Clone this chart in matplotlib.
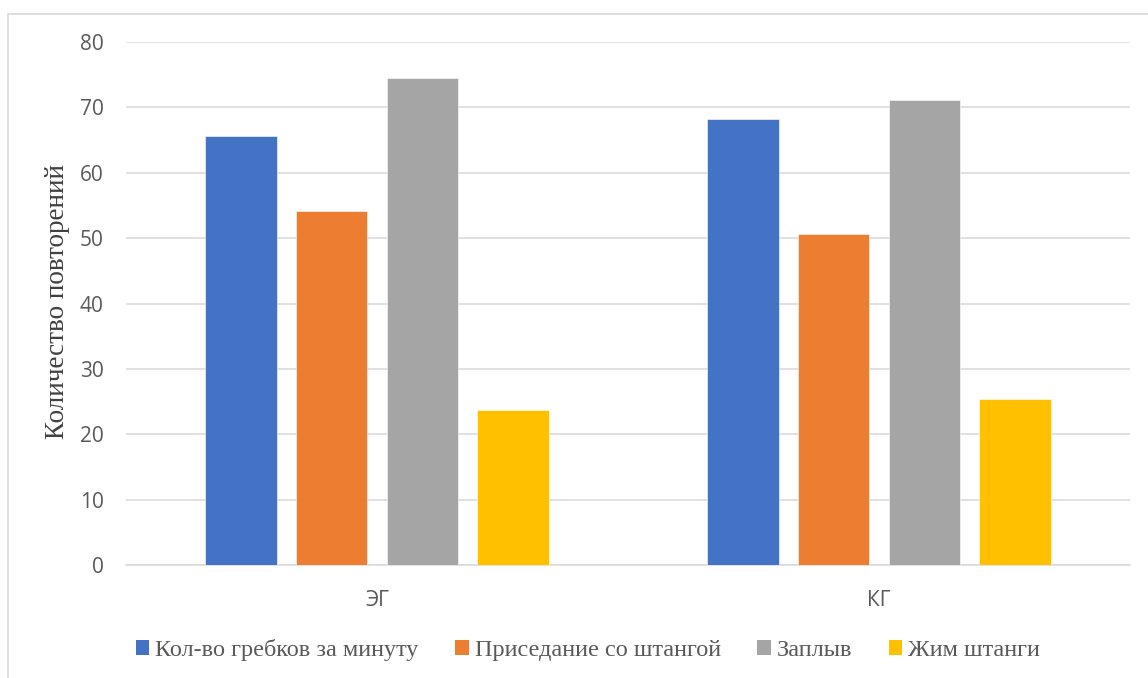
import matplotlib
matplotlib.use('Agg')
import numpy as np
import matplotlib.pyplot as plt
from matplotlib.patches import Patch, Rectangle

groups = ['ЭГ', 'КГ']
series_names = ['Кол-во гребков за минуту', 'Приседание со штангой',
                'Заплыв', 'Жим штанги']
strokes = [65.6, 68.2]
squats = [54.1, 50.6]
swim = [74.5, 71.2]
press = [23.7, 25.4]
yticks = [0, 10, 20, 30, 40, 50, 60, 70, 80]

colors = ['#4472C4', '#ED7D31', '#A5A5A5', '#FFC000']
SANS = ['Open Sans', 'DejaVu Sans']
SERIF = ['Liberation Serif', 'DejaVu Serif']


def main():
    fig = plt.figure(figsize=(11.48, 6.78), dpi=100)
    ax = fig.add_axes([126 / 1148, 1 - 565 / 678, 1004 / 1148, 523 / 678])

    # outer chart border
    fig.patches.append(Rectangle((7.5 / 1148, -0.01), 1.0, 1 - 13.5 / 678 + 0.01,
                                 transform=fig.transFigure, fill=False,
                                 edgecolor='#d9d9d9', linewidth=1.2))

    x = np.arange(len(groups))
    width = 0.143
    step = 0.181
    for i, vals in enumerate([strokes, squats, swim, press]):
        ax.bar(x + (i - 1.5) * step, vals, width, color=colors[i],
               edgecolor='white', linewidth=0.4, zorder=3)

    ax.set_xlim(-0.5, 1.5)
    ax.set_ylim(0, 80)
    ax.set_yticks(yticks)
    ax.set_yticklabels([str(t) for t in yticks], family=SANS, fontsize=15,
                       color='#595959')
    ax.set_xticks(x)
    ax.set_xticklabels(groups, family=SANS, fontsize=15, color='#595959')
    ax.tick_params(axis='both', length=0)
    ax.tick_params(axis='y', pad=16)
    ax.tick_params(axis='x', pad=18)
    ax.grid(axis='y', color='#d9d9d9', linewidth=1.1, zorder=0)
    for s in ['top', 'right', 'left']:
        ax.spines[s].set_visible(False)
    ax.spines['bottom'].set_color('#d9d9d9')
    ax.spines['bottom'].set_linewidth(1.1)

    ax.set_ylabel('Количество повторений', family=SERIF, fontsize=19.5,
                  color='#404040', va='center')
    ax.yaxis.set_label_coords(-0.068, 0.503)

    handles = [Patch(facecolor=c, edgecolor='none') for c in colors]
    fig.legend(handles, series_names, loc='center', ncol=4,
               bbox_to_anchor=(588 / 1148, 1 - 650 / 678),
               frameon=False, prop={'family': SERIF, 'size': 17.5},
               labelcolor='#595959', handlelength=0.55, handleheight=0.55,
               handletextpad=0.25, columnspacing=1.5)

    fig.savefig('out.png', dpi=100)


if __name__ == "__main__":
    main()
